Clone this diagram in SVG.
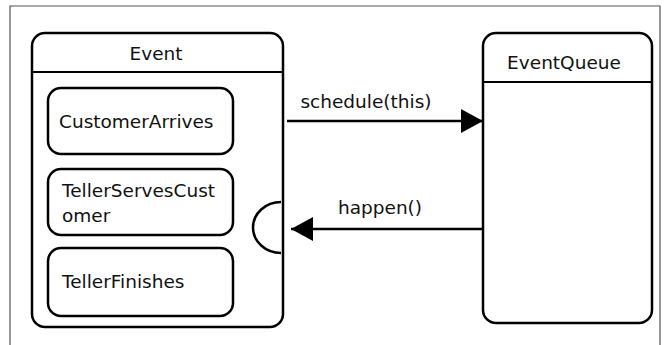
<svg xmlns="http://www.w3.org/2000/svg" width="667" height="345" viewBox="0 0 667 345">
  <style>
    .frame { fill: none; stroke: #555; stroke-width: 1.2; }
    .box { fill: #fff; stroke: #000; stroke-width: 2.5; }
    .sep { stroke: #000; stroke-width: 2; }
    .wire { stroke: #000; stroke-width: 2.5; fill: none; }
    text { font-family: "DejaVu Sans", "Liberation Sans", sans-serif; font-size: 18.5px; fill: #111; }
  </style>
  <defs>
    <marker id="head" viewBox="0 0 22 24" refX="22" refY="12" markerWidth="22" markerHeight="24" markerUnits="userSpaceOnUse" orient="auto">
      <path d="M0,0 L22,12 L0,24 Z" fill="#000"/>
    </marker>
  </defs>

  <rect width="667" height="345" fill="#fff"/>
  <!-- outer border, open at the bottom -->
  <path class="frame" d="M10,345 L10,6 L660,6 L660,345"/>

  <g id="event">
    <rect class="box" x="32" y="33" width="251" height="294" rx="13"/>
    <line class="sep" x1="32" y1="72" x2="283" y2="72"/>
    <text x="156" y="60" text-anchor="middle">Event</text>
    <path class="wire" d="M281,202 A28,25.5 0 0 0 281,253"/>
  </g>

  <g id="customer-arrives">
    <rect class="box" x="48" y="88" width="185" height="66" rx="13"/>
    <text x="59" y="128">CustomerArrives</text>
  </g>

  <g id="teller-serves-customer">
    <rect class="box" x="48" y="169" width="185" height="66" rx="13"/>
    <text x="62" y="197">TellerServesCust</text>
    <text x="62" y="222">omer</text>
  </g>

  <g id="teller-finishes">
    <rect class="box" x="48" y="248" width="185" height="68" rx="13"/>
    <text x="62" y="288">TellerFinishes</text>
  </g>

  <g id="event-queue">
    <rect class="box" x="483" y="33" width="169" height="290" rx="13"/>
    <line class="sep" x1="483" y1="82" x2="652" y2="82"/>
    <text x="564" y="69" text-anchor="middle">EventQueue</text>
  </g>

  <g id="connectors">
    <line class="wire" x1="287" y1="121" x2="483" y2="121" marker-end="url(#head)"/>
    <text x="366" y="108" text-anchor="middle">schedule(this)</text>
    <line class="wire" x1="483" y1="229" x2="291" y2="229" marker-end="url(#head)"/>
    <text x="380" y="214" text-anchor="middle">happen()</text>
  </g>
</svg>
